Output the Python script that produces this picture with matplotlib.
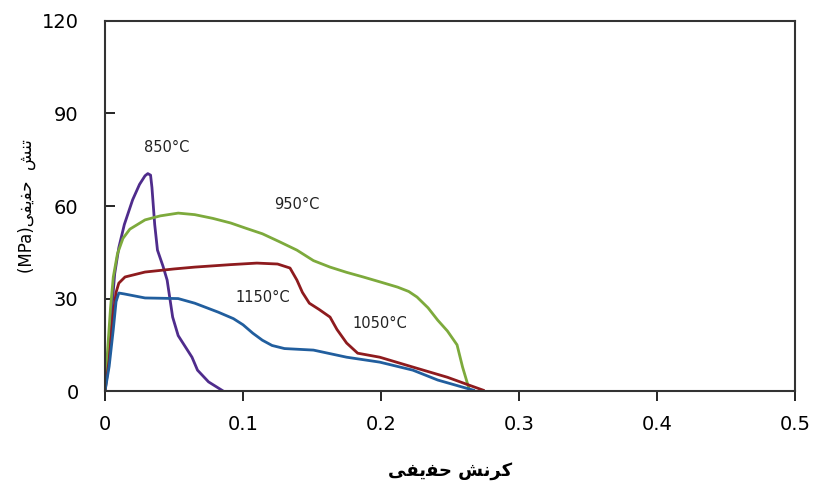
import matplotlib
matplotlib.use("Agg")
import matplotlib.pyplot as plt

# ---- DATA ----
x_850 = [0.0, 0.001, 0.003, 0.005, 0.007, 0.010, 0.014, 0.020, 0.025, 0.029, 0.031, 0.033,
         0.034, 0.036, 0.038, 0.042, 0.045, 0.049, 0.053, 0.058, 0.063, 0.067, 0.075, 0.085]
y_850 = [0.0, 6.0, 16.0, 27.0, 38.0, 46.5, 54.0, 62.0, 67.0, 69.8, 70.5, 70.0,
         66.0, 54.0, 45.7, 40.5, 36.0, 24.0, 18.0, 14.5, 11.0, 6.8, 3.0, 0.2]

x_950 = [0.0, 0.002, 0.004, 0.006, 0.009, 0.013, 0.018, 0.029, 0.040, 0.053, 0.065, 0.078,
         0.091, 0.102, 0.114, 0.126, 0.139, 0.151, 0.163, 0.175, 0.187, 0.200, 0.212, 0.220,
         0.226, 0.234, 0.241, 0.248, 0.255, 0.259, 0.264]
y_950 = [0.0, 14.0, 27.0, 37.0, 44.5, 49.5, 52.5, 55.5, 56.8, 57.7, 57.2, 56.0,
         54.5, 52.8, 51.0, 48.5, 45.7, 42.3, 40.2, 38.5, 37.0, 35.3, 33.7, 32.3,
         30.5, 27.0, 23.0, 19.5, 15.0, 7.8, 0.3]

x_1050 = [0.0, 0.003, 0.006, 0.008, 0.010, 0.0145, 0.029, 0.050, 0.065, 0.091, 0.110, 0.125,
          0.134, 0.139, 0.143, 0.148, 0.155, 0.163, 0.168, 0.175, 0.183, 0.199, 0.223, 0.248,
          0.264, 0.274]
y_1050 = [0.0, 10.0, 25.0, 32.0, 35.0, 37.0, 38.6, 39.6, 40.2, 41.0, 41.5, 41.2,
          39.9, 36.0, 32.0, 28.5, 26.5, 24.0, 20.0, 15.6, 12.3, 11.0, 7.8, 4.5,
          1.9, 0.3]

x_1150 = [0.0, 0.003, 0.006, 0.008, 0.010, 0.014, 0.029, 0.053, 0.065, 0.082, 0.093, 0.100,
          0.107, 0.114, 0.121, 0.130, 0.151, 0.175, 0.199, 0.223, 0.241, 0.259, 0.267]
y_1150 = [0.0, 8.0, 20.0, 29.0, 31.8, 31.5, 30.2, 30.0, 28.5, 25.6, 23.5, 21.5,
          18.8, 16.5, 14.8, 13.8, 13.3, 11.0, 9.4, 6.8, 3.6, 1.3, 0.3]

labels = ["850°C", "950°C", "1050°C", "1150°C"]
label_pos = [(0.045, 79.0), (0.139, 60.6), (0.199, 22.0), (0.114, 30.5)]

xticks = [0, 0.1, 0.2, 0.3, 0.4, 0.5]
xtick_labels = ["0", "0.1", "0.2", "0.3", "0.4", "0.5"]
yticks = [0, 30, 60, 90, 120]

# Persian labels written in visual order with presentation forms
xlabel = "\uFBFD\uFED4\uFBFE\uFED4\uFEA3 \uFEB6\uFEE7\uFEAE\uFB90"
ylabel = "(MPa)\uFBFD\uFED4\uFBFE\uFED4\uFEA3  \uFEB6\uFEE8\uFE97"

colors = ["#4F2C8C", "#7DAA3C", "#8E1B1E", "#215E9E"]

# ---- PLOT ----
fig = plt.figure(figsize=(8.14, 4.97), dpi=100)
ax = fig.add_axes([0.129, 0.213, 0.848, 0.745])

series = [(x_850, y_850), (x_950, y_950), (x_1050, y_1050), (x_1150, y_1150)]
for (xs, ys), c in zip(series, colors):
  ax.plot(xs, ys, color=c, lw=2.0, solid_joinstyle="round")

for lab, (lx, ly) in zip(labels, label_pos):
  ax.text(lx, ly, lab, ha="center", va="center", fontsize=10.5, color="#222222")

ax.set_xlim(0, 0.5)
ax.set_ylim(0, 120)
ax.set_xticks(xticks)
ax.set_xticklabels(xtick_labels)
ax.set_yticks(yticks)
for lbl in ax.get_xticklabels() + ax.get_yticklabels():
  lbl.set_fontsize(14)
ax.tick_params(axis="x", direction="out", length=7, width=1.2, pad=10)
ax.tick_params(axis="y", direction="in", length=7, width=1.2, pad=19)
for s in ax.spines.values():
  s.set_linewidth(1.5)
  s.set_color("#333333")

ax.set_xlabel(xlabel, fontsize=13, fontweight="bold", family="DejaVu Sans", labelpad=20)
ax.set_ylabel(ylabel, fontsize=12, family="DejaVu Sans")
ax.yaxis.set_label_coords(-0.10, 0.5)

fig.savefig("out.png", dpi=100)
